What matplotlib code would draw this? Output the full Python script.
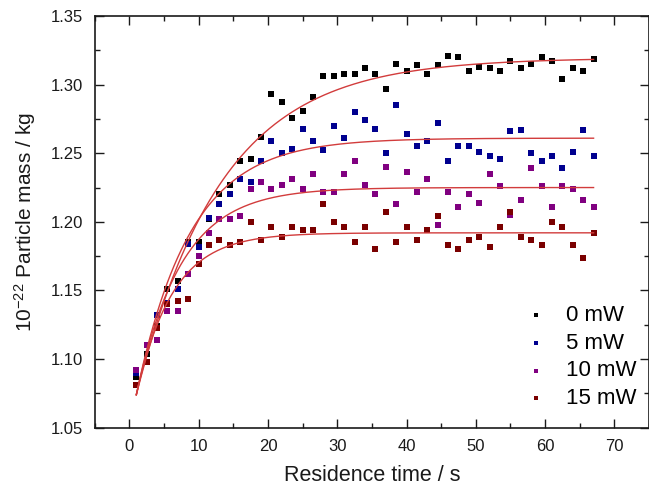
import numpy as np
import matplotlib
matplotlib.use("Agg")
import matplotlib.pyplot as plt
from matplotlib.ticker import MultipleLocator

plt.rcParams['font.family'] = ['Liberation Sans', 'DejaVu Sans']
plt.rcParams['mathtext.fontset'] = 'custom'
plt.rcParams['mathtext.rm'] = 'Liberation Sans'

# residence time (s)
time_s = [1, 2.5, 4, 5.5, 7, 8.5, 10, 11.5, 13, 14.5, 16, 17.5, 19, 20.5, 22,
          23.5, 25, 26.5, 28, 29.5, 31, 32.5, 34, 35.5, 37, 38.5, 40, 41.5, 43,
          44.5, 46, 47.5, 49, 50.5, 52, 53.5, 55, 56.5, 58, 59.5, 61, 62.5, 64,
          65.5, 67]

mass_0mW = [1.087, 1.104, 1.124, 1.151, 1.157, 1.185, 1.185, 1.202, 1.220, 1.227,
            1.244, 1.246, 1.262, 1.293, 1.287, 1.276, 1.281, 1.291, 1.306, 1.306,
            1.308, 1.308, 1.312, 1.308, 1.297, 1.315, 1.310, 1.314, 1.308, 1.314,
            1.321, 1.320, 1.310, 1.313, 1.312, 1.310, 1.317, 1.312, 1.315, 1.320,
            1.317, 1.304, 1.312, 1.310, 1.319]
mass_5mW = [1.090, 1.110, 1.132, 1.141, 1.151, 1.184, 1.182, 1.203, 1.213, 1.220,
            1.231, 1.229, 1.244, 1.259, 1.250, 1.253, 1.268, 1.259, 1.252, 1.270,
            1.261, 1.280, 1.274, 1.268, 1.250, 1.285, 1.264, 1.255, 1.259, 1.272,
            1.244, 1.255, 1.255, 1.251, 1.248, 1.246, 1.266, 1.267, 1.250, 1.244,
            1.248, 1.239, 1.251, 1.267, 1.248]
mass_10mW = [1.092, 1.110, 1.114, 1.135, 1.135, 1.162, 1.175, 1.192, 1.202, 1.202,
             1.204, 1.224, 1.229, 1.224, 1.227, 1.231, 1.224, 1.235, 1.222, 1.222,
             1.235, 1.244, 1.227, 1.220, 1.240, 1.213, 1.236, 1.222, 1.231, 1.198,
             1.222, 1.211, 1.220, 1.214, 1.235, 1.226, 1.205, 1.216, 1.239, 1.226,
             1.211, 1.226, 1.224, 1.216, 1.211]
mass_15mW = [1.081, 1.098, 1.123, 1.140, 1.142, 1.144, 1.169, 1.183, 1.187, 1.183,
             1.185, 1.200, 1.187, 1.196, 1.189, 1.196, 1.194, 1.194, 1.213, 1.200,
             1.196, 1.185, 1.196, 1.180, 1.207, 1.185, 1.196, 1.187, 1.194, 1.204,
             1.183, 1.180, 1.187, 1.189, 1.182, 1.196, 1.207, 1.189, 1.187, 1.183,
             1.200, 1.196, 1.183, 1.174, 1.192]

labels = ['0 mW', '5 mW', '10 mW', '15 mW']
colors = ['#000000', '#00008f', '#800080', '#7a0000']

# exponential fit parameters
fit_start = 1.074
fit_plateau = [1.3195, 1.261, 1.225, 1.192]
fit_tau = [12.3, 7.8, 6.5, 5.3]
fit_t0, fit_t1 = 1.0, 67.0

series = [mass_0mW, mass_5mW, mass_10mW, mass_15mW]

fig = plt.figure(figsize=(6.49, 4.88), dpi=100)
ax = fig.add_axes([0.146, 0.1236, 0.854, 0.8436])

for vals, col, lab in zip(series, colors, labels):
    ax.scatter(time_s, vals, marker='s', s=24, color=col, linewidths=0,
               label=lab, zorder=2)

tt = np.linspace(fit_t0, fit_t1, 400)
for A, tau in zip(fit_plateau, fit_tau):
    ax.plot(tt, A - (A - fit_start) * np.exp(-(tt - fit_t0) / tau),
            color='#d23c3c', lw=1.0, zorder=3)

ax.set_xlim(-5, 75)
ax.set_ylim(1.05, 1.35)
ax.xaxis.set_major_locator(MultipleLocator(10))
ax.xaxis.set_minor_locator(MultipleLocator(5))
ax.yaxis.set_major_locator(MultipleLocator(0.05))
ax.yaxis.set_minor_locator(MultipleLocator(0.025))
ax.set_xticks([0, 10, 20, 30, 40, 50, 60, 70])
ax.set_yticks([1.05, 1.10, 1.15, 1.20, 1.25, 1.30, 1.35])
ax.set_yticklabels(['1.05', '1.10', '1.15', '1.20', '1.25', '1.30', '1.35'])

ax.tick_params(which='both', direction='in', top=True, right=True,
               labelsize=12, colors='#1a1a1a')
ax.tick_params(which='major', length=6.5, width=1.0)
ax.tick_params(which='minor', length=3.5, width=1.0)
ax.tick_params(axis='y', pad=8.5)
ax.tick_params(axis='x', pad=8)
for sp in ax.spines.values():
    sp.set_linewidth(1.2)
    sp.set_color('#1a1a1a')

ax.set_xlabel('Residence time / s', fontsize=15.5, color='#1a1a1a', labelpad=8)
ax.set_ylabel(r'$\mathregular{10^{-22}}$ Particle mass / kg', fontsize=15,
              color='#1a1a1a', labelpad=9)

leg = ax.legend(loc='lower right', bbox_to_anchor=(0.977, 0.045), frameon=False,
                fontsize=16, markerscale=0.7, handlelength=0.9,
                handletextpad=0.9, labelspacing=0.3, borderpad=0,
                borderaxespad=0, scatterpoints=1)

fig.savefig('out.png', dpi=100)
